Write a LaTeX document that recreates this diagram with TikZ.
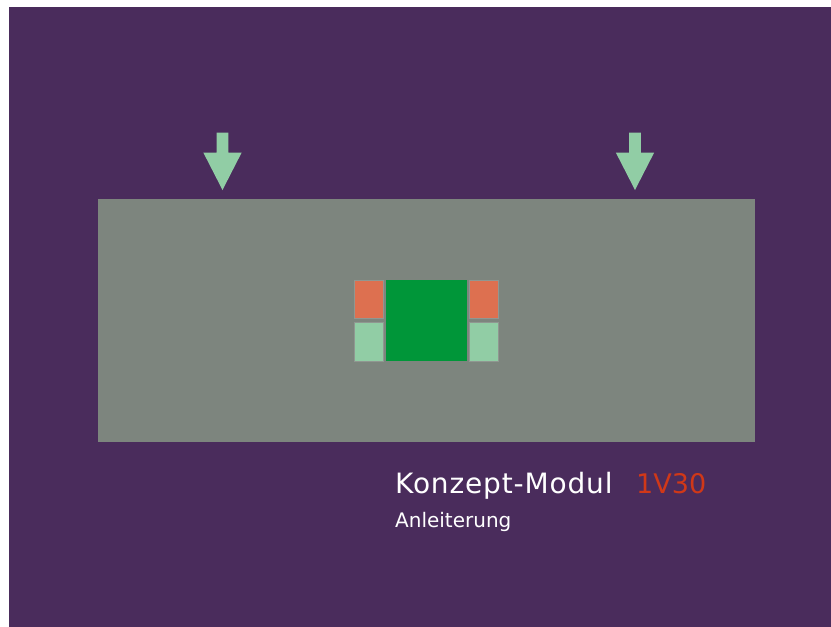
\documentclass[tikz,border=0pt]{standalone}
\usepackage{fontspec}
\setmainfont{DejaVu Sans}

\definecolor{bgpurple}{RGB}{74,44,92}
\definecolor{boardgray}{RGB}{125,133,126}
\definecolor{chipgreen}{RGB}{0,150,57}
\definecolor{padred}{RGB}{221,112,80}
\definecolor{padgreen}{RGB}{145,205,165}
\definecolor{titlered}{RGB}{208,56,24}

\tikzset{
  pad/.style={draw=boardgray!85!white,line width=0.6pt},
  pressarrow/.style={fill=padgreen},
  title/.style={anchor=base west,inner sep=0pt,text=white}
}

\begin{document}
\begin{tikzpicture}[x=1pt,y=-1pt]

\useasboundingbox (0,0) rectangle (831,627) ;
\fill[white] (0,0) rectangle (831,627) ;
\fill[bgpurple] (9,7) rectangle (831,627) ;

% board
\fill[boardgray] (98,199) rectangle (755,442) ;

% chip with its pads
\fill[chipgreen] (385.5,280) rectangle (467,361) ;
\filldraw[pad,fill=padred] (354.5,280) rectangle (383.5,318) ;
\filldraw[pad,fill=padgreen] (354.5,322) rectangle (383.5,361) ;
\filldraw[pad,fill=padred] (469.5,280) rectangle (498.5,318) ;
\filldraw[pad,fill=padgreen] (469.5,322) rectangle (498.5,361) ;

% pressing points
\foreach \px in {222.5,635} {
  \fill[pressarrow] (\px-5.8,132.5) -- (\px+5.8,132.5) -- (\px+5.8,152.5)
    -- (\px+19.2,152.5) -- (\px,190) -- (\px-19.2,152.5) -- (\px-5.8,152.5) -- cycle ;
}

% title
\node[title,font=\fontsize{28}{30}\selectfont\addfontfeature{LetterSpace=3}] (name) at (395,493) {Konzept-Modul} ;
\node[title,text=titlered,font=\fontsize{27}{30}\selectfont] (version) at (636,493) {1V30} ;
\node[title,font=\fontsize{20}{22}\selectfont] (sub) at (395,527) {Anleiterung} ;

\end{tikzpicture}
\end{document}
